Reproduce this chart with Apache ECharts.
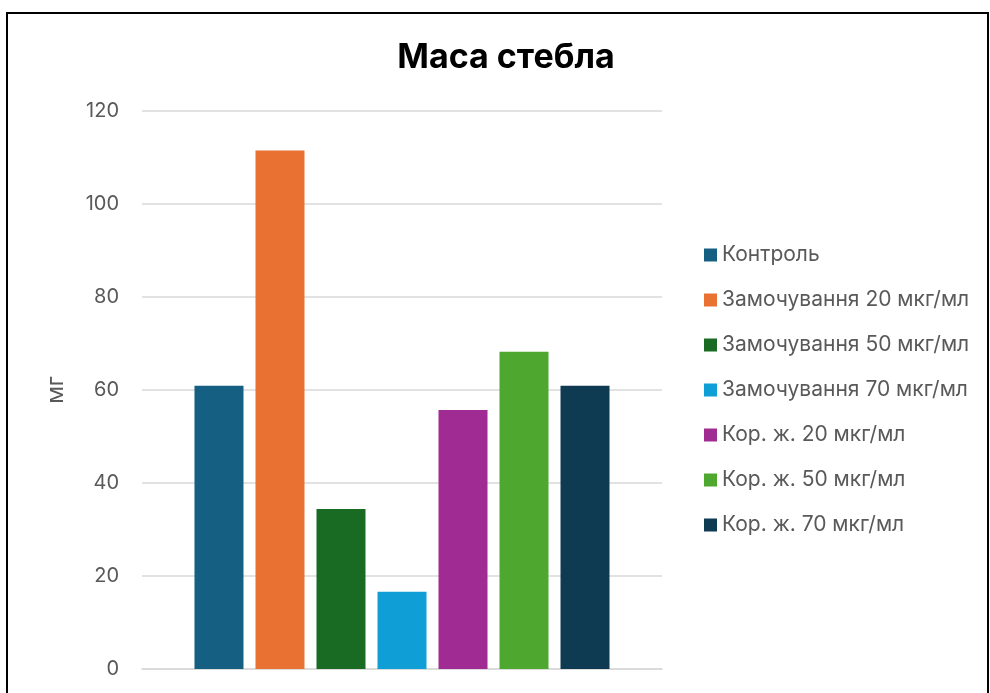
<!DOCTYPE html>
<html>
<head>
<meta charset="utf-8">
<script src="https://cdn.jsdelivr.net/npm/echarts@6/dist/echarts.min.js"></script>
<style>
html,body{margin:0;padding:0;background:#fff;}
#chart{width:990px;height:693px;}
</style>
</head>
<body>
<div id="chart"></div>
<script>
const title = 'Маса стебла';
const yAxisName = 'мг';
const categories = [''];
const seriesNames = ['Контроль','Замочування 20 мкг/мл','Замочування 50 мкг/мл','Замочування 70 мкг/мл','Кор. ж. 20 мкг/мл','Кор. ж. 50 мкг/мл','Кор. ж. 70 мкг/мл'];
const seriesValues = [60.9, 111.5, 34.4, 16.6, 55.7, 68.2, 60.9];
const seriesColors = ['#156082','#E97132','#196B24','#0F9ED5','#A02B93','#4EA72E','#0E3A52'];
const yTicks = {min:0, max:120, interval:20};

const chart = echarts.init(document.getElementById('chart'));
const font = 'Inter, "Noto Sans", sans-serif';
chart.setOption({
  animation:false,
  backgroundColor:'#fff',
  graphic:[{type:'rect',shape:{x:7,y:13,width:981,height:720},style:{fill:'none',stroke:'#000',lineWidth:2},silent:true}],
  title:{text:title,left:501,textAlign:'center',top:36,textStyle:{fontFamily:font,fontWeight:'bold',fontSize:34,color:'#000'}},
  legend:{orient:'vertical',left:699,top:239,itemWidth:13,itemHeight:13,itemGap:23,icon:'rect',
    textStyle:{fontFamily:font,fontSize:21,color:'#595959',lineHeight:22},
    data:seriesNames},
  grid:{left:142,right:328,top:111,bottom:24,containLabel:false},
  xAxis:{type:'category',data:categories,axisTick:{show:false},axisLabel:{show:false},
    axisLine:{show:true,lineStyle:{color:'#d9d9d9',width:1.5}}},
  yAxis:{type:'value',min:yTicks.min,max:yTicks.max,interval:yTicks.interval,
    name:yAxisName,nameLocation:'middle',nameGap:74,nameRotate:90,
    nameTextStyle:{fontFamily:font,fontSize:23,color:'#595959'},
    axisLabel:{fontFamily:font,fontSize:20,color:'#595959',margin:23},
    axisLine:{show:false},axisTick:{show:false},
    splitLine:{lineStyle:{color:'#d9d9d9',width:1.5}}},
  series:seriesNames.map((n,i)=>({name:n,type:'bar',data:[seriesValues[i]],barWidth:49,barGap:'24.5%',
    itemStyle:{color:seriesColors[i]}}))
});
</script>
</body>
</html>
